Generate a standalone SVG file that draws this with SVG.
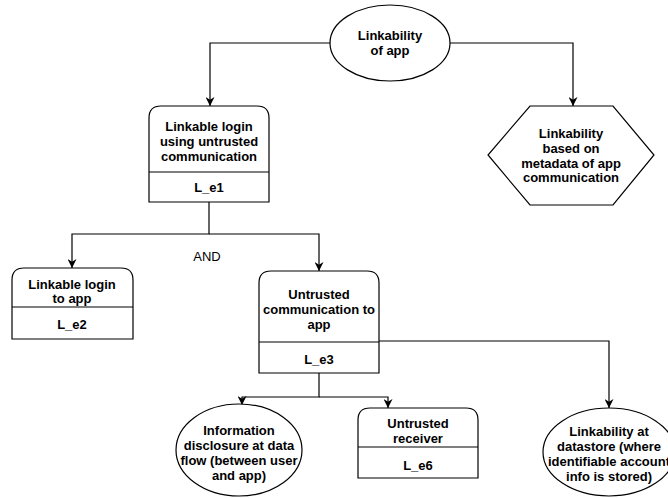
<svg xmlns="http://www.w3.org/2000/svg" width="668" height="498" viewBox="0 0 668 498">
  <style>
    .shape { fill: #ffffff; stroke: #000000; stroke-width: 1.2; }
    .edge { fill: none; stroke: #000000; stroke-width: 1.2; }
    .lbl { font-family: "Liberation Sans", Arial, Helvetica, sans-serif; font-size: 13px; font-weight: bold; fill: #000000; text-anchor: middle; }
    .plain { font-family: "Liberation Sans", Arial, Helvetica, sans-serif; font-size: 13px; fill: #000000; text-anchor: middle; }
  </style>
  <defs>
    <marker id="arrow" viewBox="0 0 10 10" refX="10" refY="5" markerWidth="9" markerHeight="9" markerUnits="userSpaceOnUse" orient="auto">
      <path d="M0,0 L10,5 L0,10 L3,5 z" fill="#000000"/>
    </marker>
  </defs>
  <rect width="668" height="498" fill="#ffffff"/>

  <!-- connectors -->
  <g id="connectors">
    <path class="edge" d="M330,43 H210 V106" marker-end="url(#arrow)"/>
    <path class="edge" d="M450,43 H573 V106" marker-end="url(#arrow)"/>
    <path class="edge" d="M209,202 V234 H72 V268" marker-end="url(#arrow)"/>
    <path class="edge" d="M209,234 H319 V271" marker-end="url(#arrow)"/>
    <path class="edge" d="M319,373 V397 H242 V405" marker-end="url(#arrow)"/>
    <path class="edge" d="M319,397 H388 V408" marker-end="url(#arrow)"/>
    <path class="edge" d="M379,341 H609 V408" marker-end="url(#arrow)"/>
    <text class="plain" x="207" y="261">AND</text>
  </g>

  <!-- root goal -->
  <g id="linkability-of-app">
    <ellipse class="shape" cx="390" cy="43" rx="60" ry="38"/>
    <text class="lbl" x="390" y="40">Linkability</text>
    <text class="lbl" x="390" y="55">of app</text>
  </g>

  <!-- metadata branch -->
  <g id="linkability-metadata">
    <polygon class="shape" points="530,106 613,106 654,155 613,205 530,205 488,155"/>
    <text class="lbl" x="571" y="138">Linkability</text>
    <text class="lbl" x="571" y="153">based on</text>
    <text class="lbl" x="571" y="168">metadata of app</text>
    <text class="lbl" x="571" y="182">communication</text>
  </g>

  <!-- L_e1 -->
  <g id="L_e1">
    <path class="shape" d="M149,202 V118 Q149,106 161,106 H257 Q269,106 269,118 V202 Z"/>
    <line class="edge" x1="149" y1="172" x2="269" y2="172"/>
    <text class="lbl" x="209" y="131">Linkable login</text>
    <text class="lbl" x="209" y="146">using untrusted</text>
    <text class="lbl" x="209" y="161">communication</text>
    <text class="lbl" x="209" y="192">L_e1</text>
  </g>

  <!-- L_e2 -->
  <g id="L_e2">
    <path class="shape" d="M12,339 V280 Q12,268 24,268 H121 Q133,268 133,280 V339 Z"/>
    <line class="edge" x1="12" y1="307" x2="133" y2="307"/>
    <text class="lbl" x="72" y="289">Linkable login</text>
    <text class="lbl" x="72" y="303">to app</text>
    <text class="lbl" x="72" y="329">L_e2</text>
  </g>

  <!-- L_e3 -->
  <g id="L_e3">
    <path class="shape" d="M259,373 V283 Q259,271 271,271 H367 Q379,271 379,283 V373 Z"/>
    <line class="edge" x1="259" y1="342" x2="379" y2="342"/>
    <text class="lbl" x="319" y="299">Untrusted</text>
    <text class="lbl" x="319" y="314">communication to</text>
    <text class="lbl" x="319" y="329">app</text>
    <text class="lbl" x="319" y="364">L_e3</text>
  </g>

  <!-- information disclosure -->
  <g id="info-disclosure">
    <ellipse class="shape" cx="239" cy="450" rx="63" ry="46"/>
    <text class="lbl" x="239" y="435">Information</text>
    <text class="lbl" x="239" y="450">disclosure at data</text>
    <text class="lbl" x="239" y="465">flow (between user</text>
    <text class="lbl" x="239" y="480">and app)</text>
  </g>

  <!-- L_e6 -->
  <g id="L_e6">
    <path class="shape" d="M358,478 V420 Q358,408 370,408 H466 Q478,408 478,420 V478 Z"/>
    <line class="edge" x1="358" y1="447" x2="478" y2="447"/>
    <text class="lbl" x="418" y="428">Untrusted</text>
    <text class="lbl" x="418" y="443">receiver</text>
    <text class="lbl" x="418" y="470">L_e6</text>
  </g>

  <!-- datastore -->
  <g id="linkability-datastore">
    <ellipse class="shape" cx="609" cy="452" rx="66" ry="44"/>
    <text class="lbl" x="609" y="436">Linkability at</text>
    <text class="lbl" x="609" y="451">datastore (where</text>
    <text class="lbl" x="609" y="466">identifiable account</text>
    <text class="lbl" x="609" y="481">info is stored)</text>
  </g>
</svg>
